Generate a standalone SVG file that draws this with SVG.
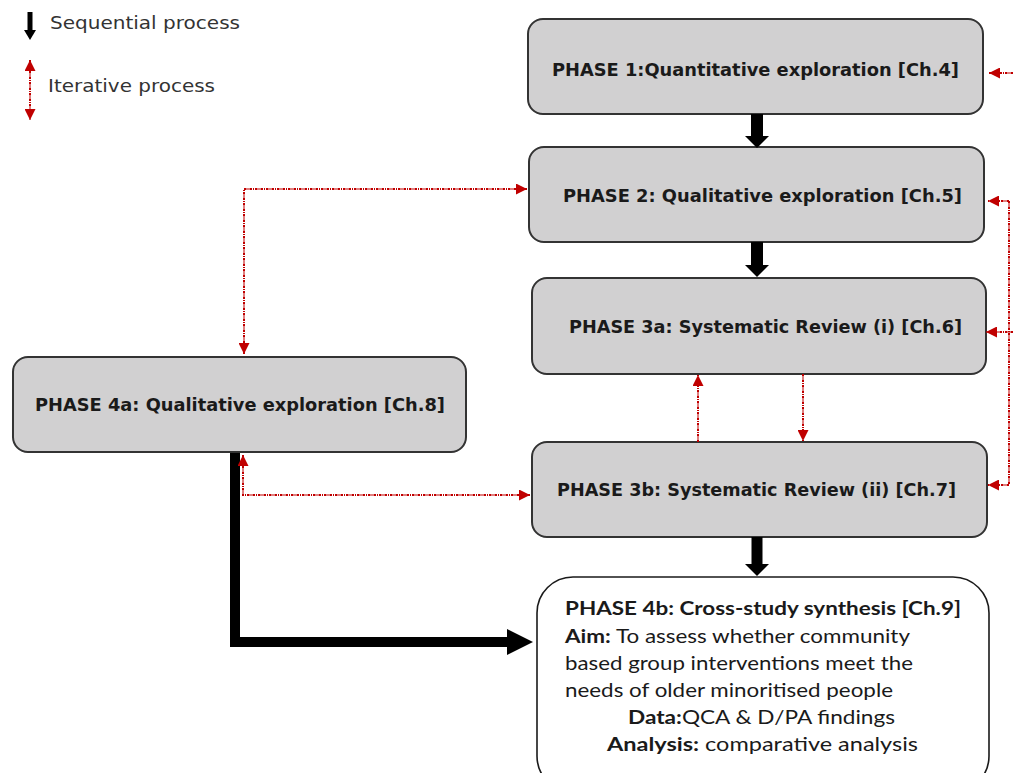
<svg xmlns="http://www.w3.org/2000/svg" width="1013" height="773" viewBox="0 0 1013 773">
  <style>
    .phase { fill: #d1d0d1; stroke: #333333; stroke-width: 2; }
    .final { fill: #ffffff; stroke: #1a1a1a; stroke-width: 1.6; }
    .lbl { font-family: "DejaVu Sans", Verdana, sans-serif; font-weight: bold; font-size: 17px; fill: #1a1a1a; }
    .legend { font-family: "DejaVu Sans", Verdana, sans-serif; font-size: 17px; fill: #333333; }
    .body { font-family: Lato, "Liberation Sans", sans-serif; font-size: 19px; fill: #1a1a1a; }
    .b { font-weight: bold; }
    .seq { fill: none; stroke: #000000; }
    .iter { fill: none; stroke: #c00000; stroke-width: 2; stroke-dasharray: 2.5 1 1 1; }
  </style>
  <defs>
    <marker id="headBlk" markerUnits="userSpaceOnUse" markerWidth="12" markerHeight="24" refX="0" refY="12" orient="auto">
      <path d="M0,0 L12,12 L0,24 z" fill="#000000"/>
    </marker>
    <marker id="headBlkL" markerUnits="userSpaceOnUse" markerWidth="26" markerHeight="26" refX="0" refY="13" orient="auto">
      <path d="M0,0 L26,13 L0,26 z" fill="#000000"/>
    </marker>
    <marker id="headBlkS" markerUnits="userSpaceOnUse" markerWidth="10" markerHeight="12" refX="0" refY="6" orient="auto">
      <path d="M0,0 L10,6 L0,12 z" fill="#000000"/>
    </marker>
    <marker id="headRed" markerUnits="userSpaceOnUse" markerWidth="11" markerHeight="11" refX="11" refY="5.5" orient="auto-start-reverse">
      <path d="M0,0 L11,5.5 L0,11 z" fill="#c00000"/>
    </marker>
  </defs>

  <!-- key -->
  <g id="legend">
    <line class="seq" x1="30" y1="12" x2="30" y2="30" stroke-width="5" marker-end="url(#headBlkS)"/>
    <text class="legend" x="50" y="29" textLength="190" lengthAdjust="spacingAndGlyphs">Sequential process</text>
    <path class="iter" d="M30,60 V120" marker-start="url(#headRed)" marker-end="url(#headRed)"/>
    <text class="legend" x="48" y="92" textLength="167" lengthAdjust="spacingAndGlyphs">Iterative process</text>
  </g>

  <!-- phases -->
  <g id="phase1">
    <rect class="phase" x="528" y="19" width="455" height="95" rx="15"/>
    <text class="lbl" x="552" y="76" textLength="407" lengthAdjust="spacingAndGlyphs">PHASE 1:Quantitative exploration [Ch.4]</text>
  </g>
  <g id="phase2">
    <rect class="phase" x="529" y="147" width="455" height="95" rx="15"/>
    <text class="lbl" x="563" y="202" textLength="399" lengthAdjust="spacingAndGlyphs">PHASE 2: Qualitative exploration [Ch.5]</text>
  </g>
  <g id="phase3a">
    <rect class="phase" x="532" y="278" width="454" height="96" rx="15"/>
    <text class="lbl" x="569" y="333" textLength="393" lengthAdjust="spacingAndGlyphs">PHASE 3a: Systematic Review (i) [Ch.6]</text>
  </g>
  <g id="phase3b">
    <rect class="phase" x="532" y="442" width="455" height="95" rx="15"/>
    <text class="lbl" x="557" y="496" textLength="399" lengthAdjust="spacingAndGlyphs">PHASE 3b: Systematic Review (ii) [Ch.7]</text>
  </g>
  <g id="phase4a">
    <rect class="phase" x="13" y="357" width="453" height="95" rx="15"/>
    <text class="lbl" x="35" y="411" textLength="410" lengthAdjust="spacingAndGlyphs">PHASE 4a: Qualitative exploration [Ch.8]</text>
  </g>
  <g id="phase4b">
    <rect class="final" x="537" y="577" width="452" height="215" rx="36"/>
    <text class="body b" x="565" y="615" textLength="396" lengthAdjust="spacingAndGlyphs">PHASE 4b: Cross-study synthesis [Ch.9]</text>
    <text class="body" x="565" y="643" textLength="345" lengthAdjust="spacingAndGlyphs"><tspan class="b">Aim:</tspan> To assess whether community</text>
    <text class="body" x="565" y="670" textLength="348" lengthAdjust="spacingAndGlyphs">based group interventions meet the</text>
    <text class="body" x="565" y="697" textLength="328" lengthAdjust="spacingAndGlyphs">needs of older minoritised people</text>
    <text class="body" x="628" y="724" textLength="267" lengthAdjust="spacingAndGlyphs"><tspan class="b">Data:</tspan>QCA &amp; D/PA findings</text>
    <text class="body" x="607" y="751" textLength="311" lengthAdjust="spacingAndGlyphs"><tspan class="b">Analysis:</tspan>  comparative analysis</text>
  </g>

  <!-- connectors -->
  <g id="connectors">
    <!-- sequential flow -->
    <line class="seq" x1="757" y1="114" x2="757" y2="136" stroke-width="12" marker-end="url(#headBlk)"/>
    <line class="seq" x1="757" y1="242" x2="757" y2="265" stroke-width="12" marker-end="url(#headBlk)"/>
    <line class="seq" x1="757" y1="537" x2="757" y2="564" stroke-width="11" marker-end="url(#headBlk)"/>
    <path class="seq" d="M235,453 V642 H507" stroke-width="10" stroke-linejoin="miter" marker-end="url(#headBlkL)"/>

    <!-- iterative loops -->
    <path class="iter" d="M244,354 V189 H527" marker-start="url(#headRed)" marker-end="url(#headRed)"/>
    <path class="iter" d="M243,455 V495 H530" marker-start="url(#headRed)" marker-end="url(#headRed)"/>
    <path class="iter" d="M1009,201 V485"/>
    <path class="iter" d="M1009,201 H988" marker-end="url(#headRed)"/>
    <path class="iter" d="M1013,332 H986" marker-end="url(#headRed)"/>
    <path class="iter" d="M1009,485 H988" marker-end="url(#headRed)"/>
    <path class="iter" d="M1013,73 H989" marker-end="url(#headRed)"/>
    <path class="iter" d="M698,442 V375" marker-end="url(#headRed)"/>
    <path class="iter" d="M803,374 V441" marker-end="url(#headRed)"/>
  </g>
</svg>
